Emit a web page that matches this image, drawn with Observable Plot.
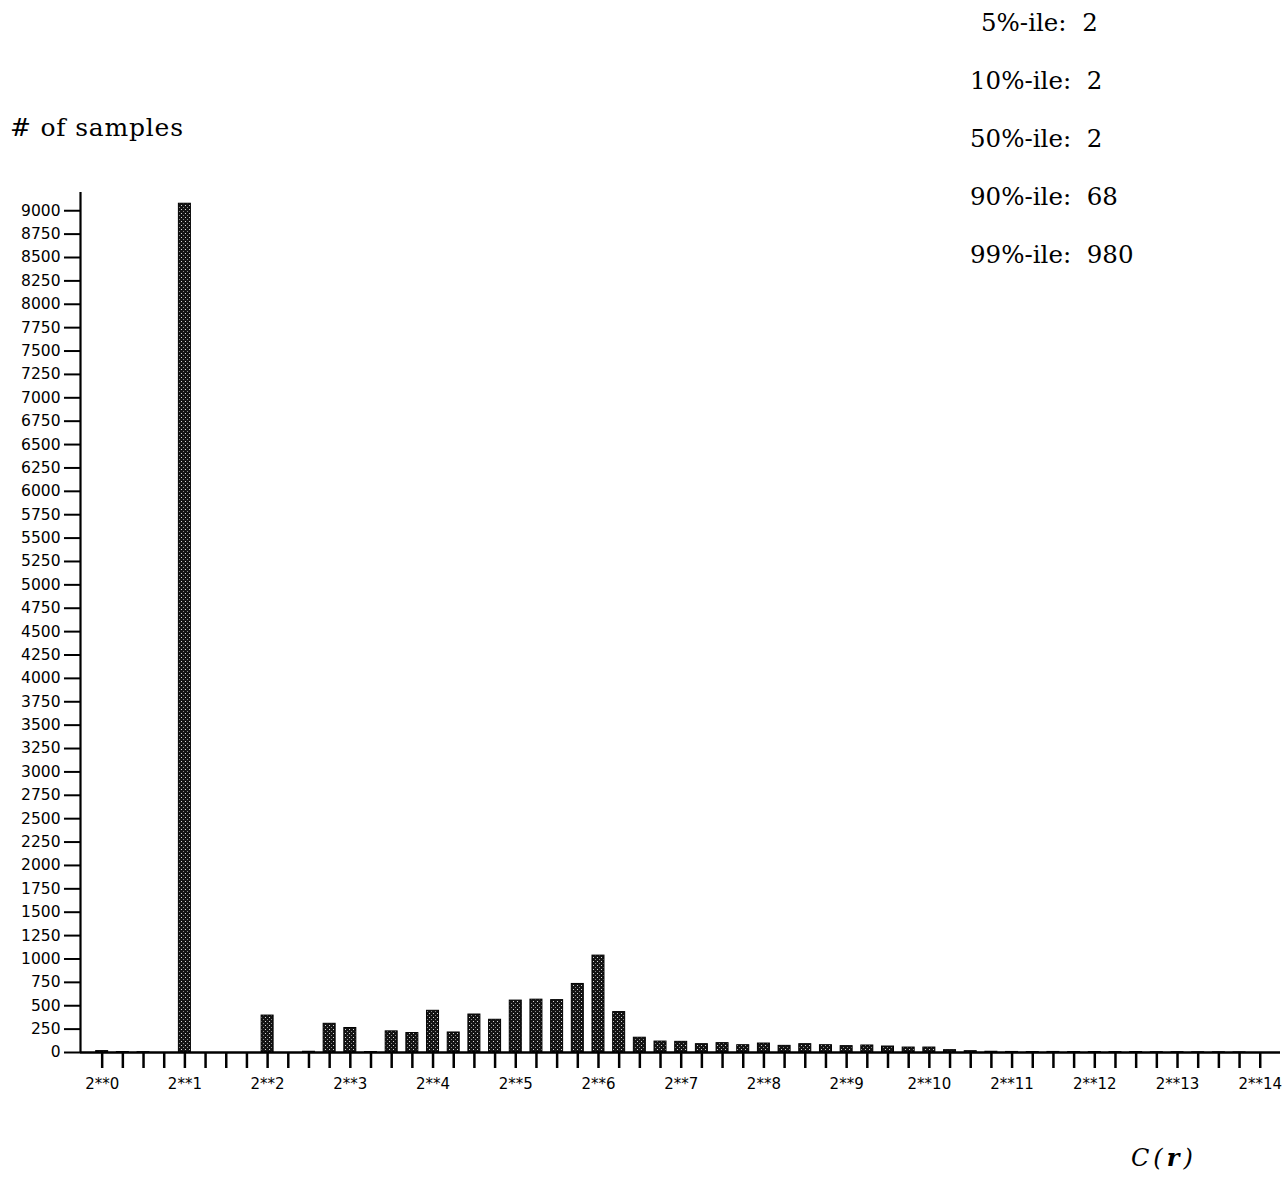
<!DOCTYPE html>
<html>
<head>
<meta charset="utf-8">
<script src="https://cdn.jsdelivr.net/npm/d3@7"></script>
<script src="https://cdn.jsdelivr.net/npm/@observablehq/plot@0.6"></script>
<style>
  body { margin: 0; background: #fff; }
  #wrap { position: relative; width: 1286px; height: 1194px; overflow: hidden; background: #fff; }
  #wrap svg { position: absolute; left: 0; top: 0; }
  .lab { position: absolute; font-family: "DejaVu Serif", serif; color: #000; white-space: pre; line-height: 1; }
</style>
</head>
<body>
<div id="wrap"></div>
<script>
// bins: exponent of 2, in quarter steps (2**0 ... 2**14)
const binExponent = [
  0, 0.25, 0.5, 0.75, 1, 1.25, 1.5, 1.75, 2, 2.25, 2.5, 2.75,
  3, 3.25, 3.5, 3.75, 4, 4.25, 4.5, 4.75, 5, 5.25, 5.5, 5.75,
  6, 6.25, 6.5, 6.75, 7, 7.25, 7.5, 7.75, 8, 8.25, 8.5, 8.75,
  9, 9.25, 9.5, 9.75, 10, 10.25, 10.5, 10.75, 11, 11.25, 11.5, 11.75,
  12, 12.25, 12.5, 12.75, 13, 13.25, 13.5, 13.75, 14
];
// number of samples per bin
const sampleCounts = [
  15, 5, 3, 0, 9075, 0, 0, 0, 395, 0, 8, 307,
  262, 5, 226, 208, 446, 214, 406, 350, 555, 565, 560, 733,
  1036, 432, 158, 117, 114, 89, 100, 78, 96, 71, 89, 78,
  68, 75, 64, 53, 53, 25, 14, 8, 6, 5, 6, 5,
  5, 4, 5, 3, 3, 2, 2, 1, 0
];
const yTickValues = [
  0, 250, 500, 750, 1000, 1250, 1500, 1750, 2000, 2250, 2500, 2750,
  3000, 3250, 3500, 3750, 4000, 4250, 4500, 4750, 5000, 5250, 5500, 5750,
  6000, 6250, 6500, 6750, 7000, 7250, 7500, 7750, 8000, 8250, 8500, 8750, 9000
];
const powerTickLabels = [
  "2**0", "2**1", "2**2", "2**3", "2**4", "2**5", "2**6", "2**7",
  "2**8", "2**9", "2**10", "2**11", "2**12", "2**13", "2**14"
];
const percentileNames = ["5%-ile:", "10%-ile:", "50%-ile:", "90%-ile:", "99%-ile:"];
const percentileValues = [2, 2, 2, 68, 980];
const yAxisTitle = "# of samples";

const bins = binExponent.map((e, i) => ({ e, n: sampleCounts[i] }));

const xMin = -0.262, xMax = 14.245;
const yMax = 9195;
const halfW = 0.0725;

const chart = Plot.plot({
  width: 1286,
  height: 1194,
  marginLeft: 80,
  marginRight: 6,
  marginTop: 192,
  marginBottom: 142,
  style: { fontFamily: "DejaVu Sans", background: "#fff", color: "#000" },
  x: { type: "linear", domain: [xMin, xMax], label: null },
  y: { type: "linear", domain: [0, yMax], label: null },
  marks: [
    Plot.rectY(bins.filter(d => d.n > 0), {
      x1: d => d.e - halfW,
      x2: d => d.e + halfW,
      y: "n",
      fill: "url(#stip)",
      stroke: "#000",
      strokeWidth: 1
    }),
    Plot.axisY({
      ticks: yTickValues,
      tickFormat: d3.format("d"),
      tickSize: 16,
      tickPadding: 4,
      fontSize: 15.5,
      strokeWidth: 2,
      label: null
    }),
    Plot.axisX({
      ticks: binExponent,
      tickFormat: e => Number.isInteger(e) ? powerTickLabels[e] : "",
      tickSize: 16,
      tickPadding: 10,
      fontSize: 15,
      strokeWidth: 2.5,
      label: null
    }),
    Plot.ruleX([xMin], { y1: 0, y2: yMax, strokeWidth: 2.2 }),
    Plot.ruleY([0], { x1: xMin, x2: xMax, strokeWidth: 2.5 })
  ]
});

// stipple pattern for bars
const ns = "http://www.w3.org/2000/svg";
const defs = document.createElementNS(ns, "defs");
defs.innerHTML = `
  <pattern id="stip" width="4" height="4" patternUnits="userSpaceOnUse">
    <rect width="4" height="4" fill="#141414"/>
    <rect x="1" y="1" width="1" height="1" fill="#d8d8d8"/>
    <rect x="3" y="3" width="1" height="1" fill="#8a8a8a"/>
  </pattern>`;
chart.insertBefore(defs, chart.firstChild);

const wrap = document.getElementById("wrap");
wrap.appendChild(chart);

function addLabel(text, left, top, size, extra) {
  const d = document.createElement("div");
  d.className = "lab";
  d.style.left = left + "px";
  d.style.top = top + "px";
  d.style.fontSize = size + "px";
  if (extra) Object.assign(d.style, extra);
  d.textContent = text;
  wrap.appendChild(d);
  return d;
}

// y-axis title
addLabel(yAxisTitle, 10, 115, 25, { letterSpacing: "0.8px" });

// percentiles block
const pctBaselines = [31, 89, 147, 205, 263];
percentileNames.forEach((name, i) => {
  const left = i === 0 ? 981 : 970;
  addLabel(name + "  " + percentileValues[i], left, pctBaselines[i] - 20.3, 24.5);
});

// x-axis title C(r)
const cr = addLabel("", 1131, 1146, 24, { fontStyle: "italic", letterSpacing: "4px" });
cr.innerHTML = 'C(<b>r</b>)';
</script>
</body>
</html>
